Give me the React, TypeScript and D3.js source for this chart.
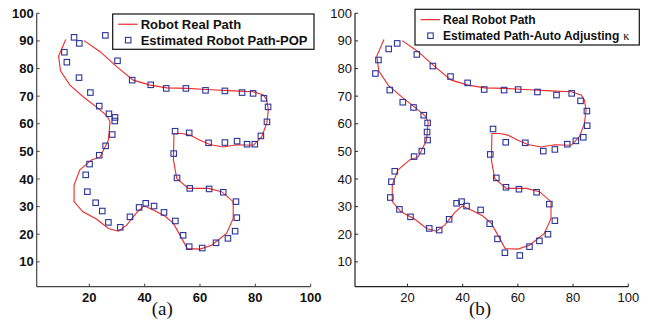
import React from "react";
import * as d3 from "d3";

// Real robot path (shared by both panels)
const realPathX = [11.5, 8.9, 9.6, 13.0, 17.8, 23.3, 26.3, 27.5, 26.9, 23.9, 20.8, 16.6, 14.5, 14.5, 17.6, 22.7, 26.9, 30.5, 33.5, 37.1, 39.8, 43.1, 47.3, 50.4, 53.4, 55.4, 60.0, 64.2, 69.6, 72.0, 72.0, 67.8, 63.0, 55.8, 51.6, 50.4, 50.6, 53.4, 56.4, 60.0, 63.6, 68.4, 73.3, 79.3, 82.3, 84.1, 84.7, 84.1, 82.9, 79.3, 72.0, 62.4, 55.2, 48.0, 42.0, 35.9, 29.9, 23.9, 18.1];
const realPathY = [90.5, 84.5, 79.2, 74.0, 69.8, 65.5, 63.0, 60.7, 54.0, 48.0, 46.9, 43.3, 37.8, 31.8, 28.2, 25.4, 22.1, 21.1, 23.3, 27.8, 30.3, 28.8, 26.6, 23.9, 18.5, 14.8, 14.6, 16.0, 20.3, 25.7, 31.8, 35.4, 36.6, 36.6, 40.2, 46.9, 56.5, 56.5, 55.9, 54.0, 52.5, 51.6, 52.4, 52.2, 55.3, 60.1, 65.0, 68.6, 70.4, 71.6, 71.9, 72.4, 72.8, 73.0, 74.0, 75.8, 80.7, 86.1, 90.1];

// Panel (a): Estimated Robot Path-POP
const popX = [14.5, 16.4, 25.8, 11.0, 11.9, 30.2, 16.3, 20.4, 23.6, 27.1, 29.3, 29.2, 28.3, 25.9, 23.6, 35.5, 42.2, 47.8, 54.9, 62.0, 69.0, 75.2, 79.2, 83.1, 84.6, 84.2, 82.0, 79.8, 77.0, 73.4, 69.0, 63.1, 56.1, 51.0, 50.5, 20.1, 18.7, 19.3, 22.3, 24.7, 26.9, 31.2, 34.7, 38.0, 40.4, 43.4, 47.0, 51.1, 53.9, 56.1, 60.8, 65.8, 70.1, 72.7, 73.3, 73.0, 68.4, 63.3, 56.3, 51.7];
const popY = [91.3, 89.1, 92.0, 85.9, 82.3, 82.8, 76.7, 71.3, 66.4, 63.6, 62.3, 61.0, 56.1, 52.0, 48.6, 75.8, 74.1, 72.8, 72.8, 72.1, 71.9, 71.3, 71.0, 69.2, 66.1, 60.7, 55.6, 52.6, 52.6, 53.7, 53.2, 53.1, 56.7, 57.3, 49.2, 45.4, 41.5, 35.4, 31.4, 28.4, 24.3, 22.5, 26.3, 29.7, 31.2, 30.2, 27.9, 24.8, 19.6, 15.5, 15.0, 16.9, 18.5, 21.1, 26.0, 31.8, 35.2, 36.4, 36.6, 40.4];

// Panel (b): Estimated Path-Auto Adjusting kappa
const autoX = [13.2, 16.3, 23.4, 29.2, 35.6, 41.8, 47.8, 55.0, 60.1, 67.1, 74.0, 79.5, 82.7, 85.0, 85.1, 83.7, 81.0, 77.9, 73.4, 69.2, 62.7, 55.6, 51.0, 50.0, 9.5, 8.4, 13.6, 18.3, 22.2, 25.9, 27.3, 27.1, 27.3, 25.2, 22.4, 15.4, 14.2, 13.8, 17.1, 21.1, 27.9, 31.5, 35.1, 37.8, 39.6, 41.4, 46.5, 49.8, 52.6, 55.3, 60.7, 64.2, 67.8, 70.9, 73.4, 71.4, 66.8, 60.4, 55.7, 52.2];
const autoY = [87.1, 89.1, 85.1, 80.9, 77.1, 74.8, 72.4, 72.2, 72.4, 71.5, 70.4, 71.0, 68.3, 64.6, 59.3, 55.1, 53.8, 52.6, 50.7, 50.1, 53.1, 53.3, 58.1, 48.9, 83.1, 78.2, 72.2, 67.8, 65.9, 63.1, 60.3, 57.0, 54.1, 50.1, 48.1, 42.8, 39.0, 33.3, 29.0, 26.3, 22.1, 21.5, 25.4, 31.2, 31.8, 30.2, 28.8, 23.8, 18.3, 13.3, 12.3, 15.5, 17.6, 20.0, 24.9, 30.9, 35.2, 36.3, 37.0, 40.4];

const xTicks = [20, 40, 60, 80, 100];
const yTicks = [10, 20, 30, 40, 50, 60, 70, 80, 90, 100];

const RED = "#ee2a2a";
const BLUE = "#2a3599";

type PanelProps = {
  x0: number;
  width: number;
  estX: number[];
  estY: number[];
  bold: boolean;
  axisColor: string;
  caption: string;
  captionX: number;
  legend: { x: number; y: number; w: number; h: number; fs: number; l1: string; l2: string; kappa?: boolean };
};

function Panel(p: PanelProps) {
  const top = 13.3;
  const bottom = 286.7;
  const x = d3.scaleLinear().domain([1, 100]).range([p.x0, p.x0 + p.width]);
  const y = d3.scaleLinear().domain([1, 100]).range([bottom, top]);
  const pts: [number, number][] = realPathX.map((v, i) => [v, realPathY[i]]);
  const line = d3.line<[number, number]>().x((d) => x(d[0])).y((d) => y(d[1]));
  const fw = p.bold ? "bold" : "normal";
  const lg = p.legend;
  const sq = 5.5;
  return (
    <g>
      <path d={line(pts) || ""} fill="none" stroke={RED} strokeWidth={1.1} />
      {p.estX.map((v, i) => (
        <rect key={i} x={x(v) - sq / 2} y={y(p.estY[i]) - sq / 2} width={sq} height={sq} fill="none" stroke={BLUE} strokeWidth={1.1} />
      ))}
      {/* axes */}
      <line x1={x(1)} x2={x(1)} y1={top} y2={bottom} stroke={p.axisColor} strokeWidth={1.2} />
      <line x1={x(1)} x2={x(100)} y1={bottom} y2={bottom} stroke={p.axisColor} strokeWidth={1.2} />
      {yTicks.map((t) => (
        <g key={"y" + t}>
          <line x1={x(1)} x2={x(1) + 3} y1={y(t)} y2={y(t)} stroke={p.axisColor} strokeWidth={1} />
          <text x={x(1) - 3} y={y(t)} dy="0.35em" textAnchor="end" fontSize={13} fontWeight={fw} fill="#111">
            {t}
          </text>
        </g>
      ))}
      {xTicks.map((t) => (
        <g key={"x" + t}>
          <line x1={x(t)} x2={x(t)} y1={bottom} y2={bottom - 3} stroke={p.axisColor} strokeWidth={1} />
          <text x={x(t)} y={301.5} textAnchor="middle" fontSize={13} fontWeight={fw} fill="#111">
            {t}
          </text>
        </g>
      ))}
      {/* legend */}
      <rect x={lg.x} y={lg.y} width={lg.w} height={lg.h} fill="#fff" stroke="#111" strokeWidth={1.2} />
      <line x1={lg.x + 5.5} x2={lg.x + 25} y1={lg.y + lg.h * 0.29} y2={lg.y + lg.h * 0.29} stroke={RED} strokeWidth={1.2} />
      <text x={lg.x + 28} y={lg.y + lg.h * 0.29} dy="0.36em" fontSize={lg.fs} fontWeight="bold" fill="#111">
        {lg.l1}
      </text>
      <rect x={lg.x + 15.5 - sq / 2} y={lg.y + lg.h * 0.74 - sq / 2} width={sq} height={sq} fill="none" stroke={BLUE} strokeWidth={1.1} />
      <text x={lg.x + 28} y={lg.y + lg.h * 0.74} dy="0.36em" fontSize={lg.fs} fontWeight="bold" fill="#111">
        {lg.l2}
        {lg.kappa ? (
          <tspan dx={4} fontFamily="'Liberation Serif', 'DejaVu Serif', serif" fontWeight="normal" fontSize={lg.fs}>
            κ
          </tspan>
        ) : null}
      </text>
      <text x={p.captionX} y={314.5} textAnchor="middle" fontSize={19} fontFamily="'Liberation Serif', 'Times New Roman', serif" fill="#111">
        {p.caption}
      </text>
    </g>
  );
}

export default function App() {
  return (
    <svg width={655} height={322} viewBox="0 0 655 322" style={{ position: "absolute", left: 0, top: 0, background: "#fff" }} fontFamily="'Liberation Sans', Arial, Helvetica, sans-serif">
      <rect x={0} y={0} width={655} height={322} fill="#fff" />
      <Panel
        x0={36.7}
        width={274}
        estX={popX}
        estY={popY}
        bold={true}
        axisColor="#444"
        caption="(a)"
        captionX={162.3}
        legend={{ x: 112.7, y: 14, w: 201.3, h: 35.3, fs: 13, l1: "Robot Real Path", l2: "Estimated Robot Path-POP" }}
      />
      <Panel
        x0={355}
        width={273.3}
        estX={autoX}
        estY={autoY}
        bold={false}
        axisColor="#222"
        caption="(b)"
        captionX={480}
        legend={{ x: 415, y: 9.3, w: 224.3, h: 35.7, fs: 12, l1: "Real Robot Path", l2: "Estimated Path-Auto Adjusting", kappa: true }}
      />
    </svg>
  );
}
